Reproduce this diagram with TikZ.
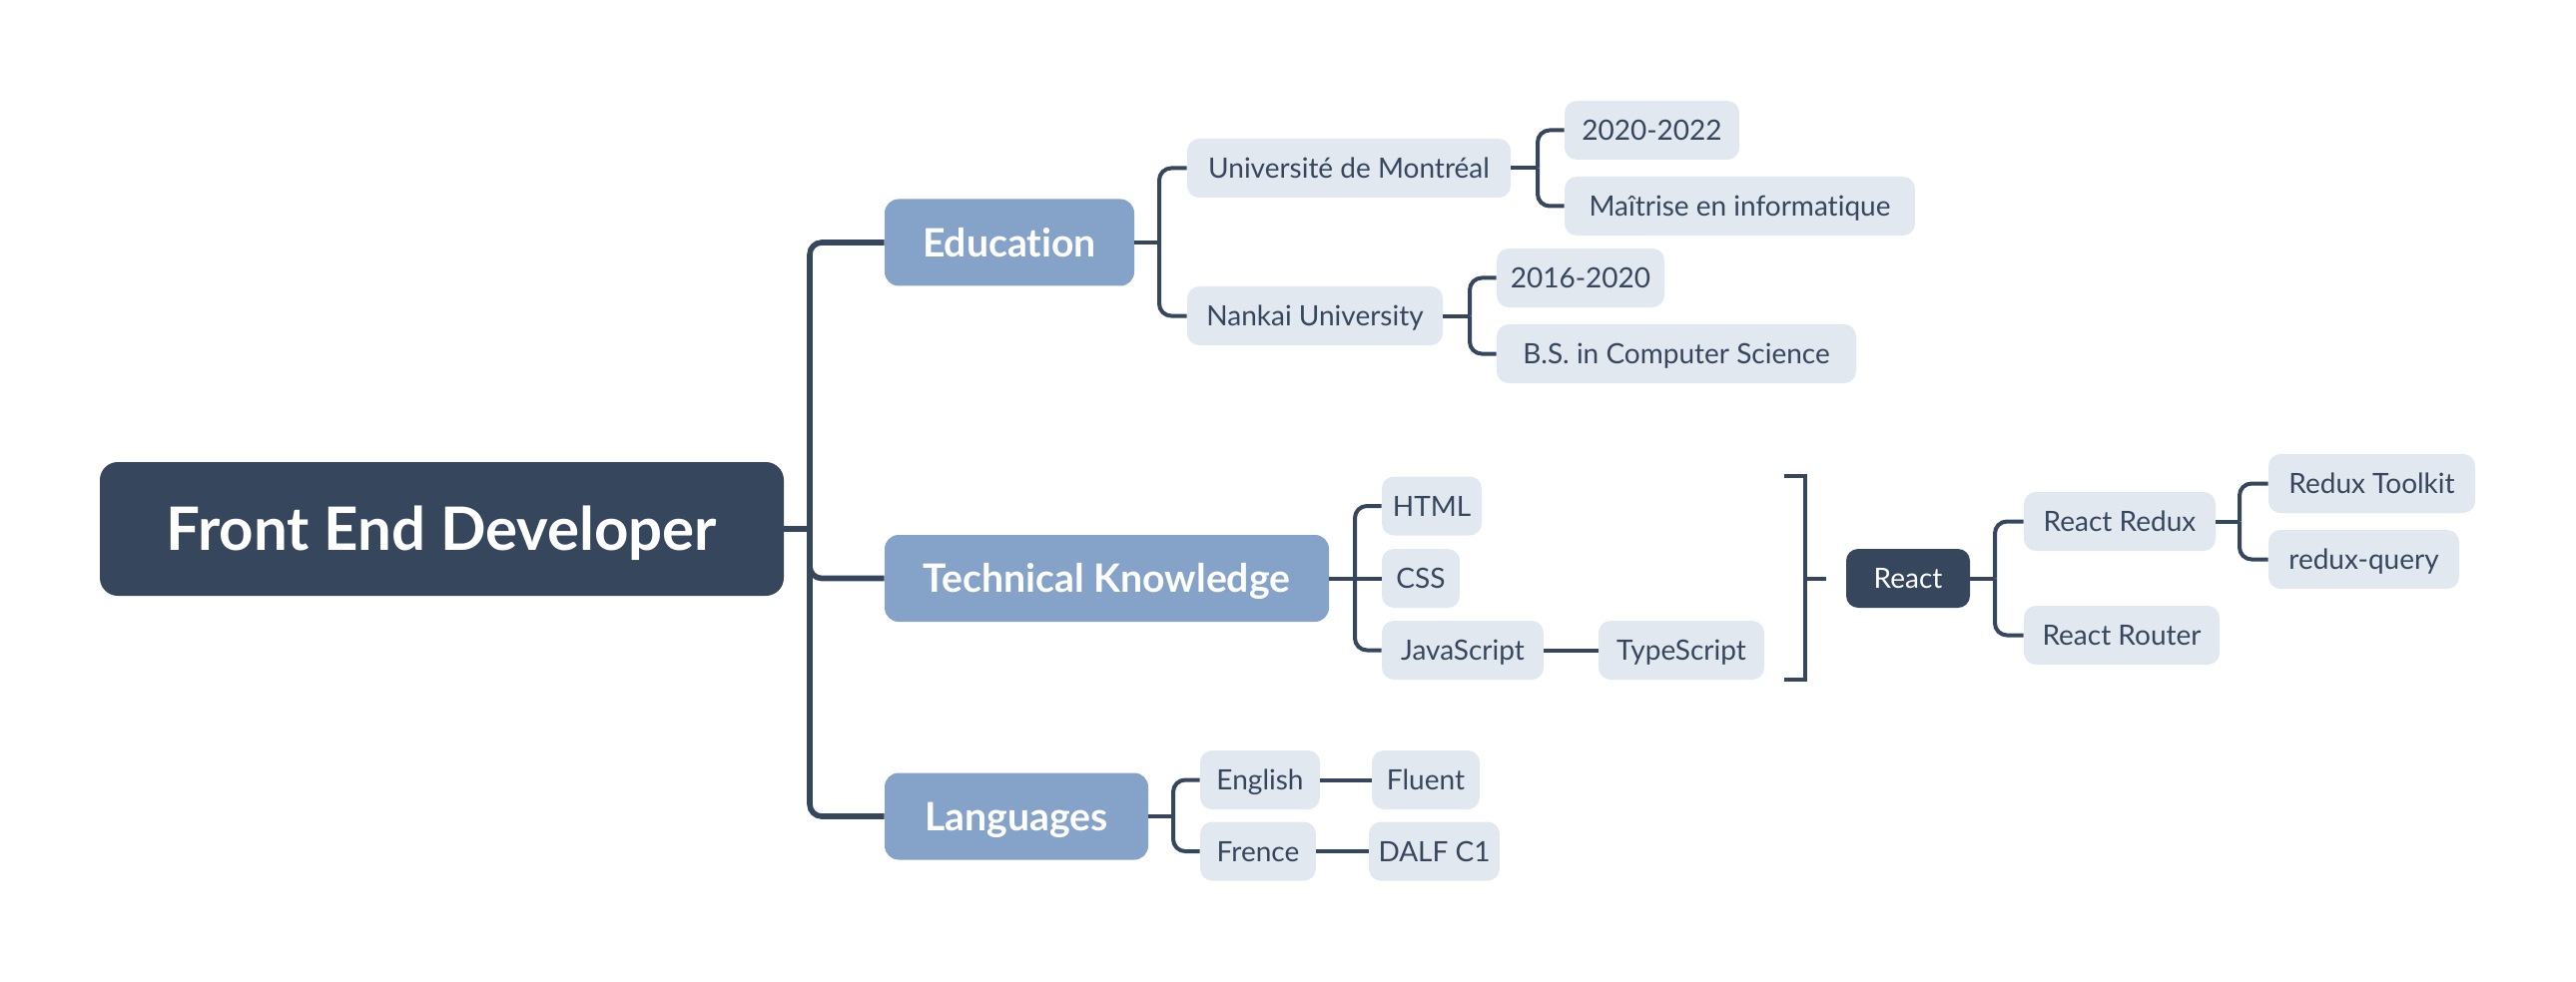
\documentclass[tikz,border=0pt]{standalone}
\usepackage{fontspec}
\setmainfont{Lato}[Ligatures={NoCommon}]
\definecolor{darkc}{HTML}{36465D}
\definecolor{midc}{HTML}{85A2C8}
\definecolor{lightc}{HTML}{E2E8F0}
\tikzset{
  rootbox/.style={fill=darkc, text=white, rounded corners=9pt, inner xsep=0pt,
    minimum height=67pt, text height=21pt, text depth=0pt,
    font=\bfseries\fontsize{30}{32}\selectfont},
  lvlbox/.style={fill=midc, text=white, rounded corners=7pt, inner xsep=0pt,
    minimum height=43.5pt, text height=14pt, text depth=0pt,
    font=\bfseries\fontsize{19.6}{21}\selectfont},
  leafbox/.style={fill=lightc, text=darkc, rounded corners=6pt, inner xsep=0pt,
    minimum height=29.5pt, text height=10pt, text depth=0pt,
    font=\fontsize{14}{16}\selectfont},
  reactbox/.style={leafbox, fill=darkc, text=white},
  mainconn/.style={draw=darkc, line width=2.8pt, rounded corners=6pt},
  conn/.style={draw=darkc, line width=2pt, rounded corners=6pt},
}
\begin{document}
\begin{tikzpicture}[x=0.5pt,y=-0.5pt]
\useasboundingbox (0,0) rectangle (2580,984);
% nodes
\node[rootbox, minimum width=342.5pt] (root) at (442.5,530) {Front End Developer};
\node[lvlbox, minimum width=125pt] (edu) at (1011,243) {Education};
\node[lvlbox, minimum width=222.5pt] (tk) at (1108.5,579.5) {Technical Knowledge};
\node[lvlbox, minimum width=132pt] (lang) at (1018,818) {Languages};
\node[leafbox, minimum width=162pt] (univ) at (1351,168.5) {Université de Montréal};
\node[leafbox, minimum width=128pt] (nankai) at (1317,316.5) {Nankai University};
\node[leafbox, minimum width=87.5pt] (y2020) at (1654.5,130.5) {2020-2022};
\node[leafbox, minimum width=175.5pt] (maitrise) at (1742.5,206.5) {Maîtrise en informatique};
\node[leafbox, minimum width=84pt] (y2016) at (1583,278.5) {2016-2020};
\node[leafbox, minimum width=180pt] (bs) at (1679,354.5) {B.S. in Computer Science};
\node[leafbox, minimum width=50pt] (html) at (1434,507) {HTML};
\node[leafbox, minimum width=39pt] (css) at (1423,579.5) {CSS};
\node[leafbox, minimum width=81pt] (js) at (1465,651.5) {JavaScript};
\node[leafbox, minimum width=83pt] (ts) at (1684,651.5) {TypeScript};
\node[reactbox, minimum width=62pt] (react) at (1911,579.5) {React};
\node[leafbox, minimum width=96pt] (rredux) at (2123,522.5) {React Redux};
\node[leafbox, minimum width=98pt] (rrouter) at (2125,636.5) {React Router};
\node[leafbox, minimum width=103.5pt] (rtk) at (2375.5,484.5) {Redux Toolkit};
\node[leafbox, minimum width=95.5pt] (rq) at (2367.5,560.5) {redux-query};
\node[leafbox, minimum width=60pt] (eng) at (1262,781.5) {English};
\node[leafbox, minimum width=58pt] (fr) at (1260,853) {Frence};
\node[leafbox, minimum width=54pt] (fluent) at (1428,781.5) {Fluent};
\node[leafbox, minimum width=65.5pt] (dalf) at (1436.5,853) {DALF C1};
% junctions
\coordinate (rj) at (811,530);
\coordinate (ej) at (1161,243);
\coordinate (uj) at (1540,168.5);
\coordinate (nj) at (1472,316.5);
\coordinate (tj) at (1357,579.5);
\coordinate (lj) at (1175,818);
\coordinate (xj) at (1998,579.5);
\coordinate (dj) at (2243,522.5);
\coordinate (bt) at (1787,477);
\coordinate (btc) at (1808,477);
\coordinate (bbc) at (1808,681);
\coordinate (bb) at (1787,681);
\coordinate (bm) at (1808,579.5);
\coordinate (btip) at (1829,579.5);
% root connectors
\draw[mainconn, rounded corners=0pt] (root.east) -- (rj);
\draw[mainconn] (rj) |- (edu.west);
\draw[mainconn] (rj) |- (tk.west);
\draw[mainconn] (rj) |- (lang.west);
% education
\draw[conn] (edu.east) -- (ej);
\draw[conn] (ej) |- (univ.west);
\draw[conn] (ej) |- (nankai.west);
\draw[conn] (univ.east) -- (uj);
\draw[conn] (uj) |- (y2020.west);
\draw[conn] (uj) |- (maitrise.west);
\draw[conn] (nankai.east) -- (nj);
\draw[conn] (nj) |- (y2016.west);
\draw[conn] (nj) |- (bs.west);
% technical knowledge
\draw[conn] (tk.east) -- (css.west);
\draw[conn] (tj) |- (html.west);
\draw[conn] (tj) |- (js.west);
\draw[conn] (js.east) -- (ts.west);
% summary bracket
\draw[conn, rounded corners=0pt] (bt) -- (btc) -- (bbc) -- (bb);
\draw[conn] (bm) -- (btip);
% react
\draw[conn] (react.east) -- (xj);
\draw[conn] (xj) |- (rredux.west);
\draw[conn] (xj) |- (rrouter.west);
\draw[conn] (rredux.east) -- (dj);
\draw[conn] (dj) |- (rtk.west);
\draw[conn] (dj) |- (rq.west);
% languages
\draw[conn] (lang.east) -- (lj);
\draw[conn] (lj) |- (eng.west);
\draw[conn] (lj) |- (fr.west);
\draw[conn] (eng.east) -- (fluent.west);
\draw[conn] (fr.east) -- (dalf.west);
\end{tikzpicture}
\end{document}
